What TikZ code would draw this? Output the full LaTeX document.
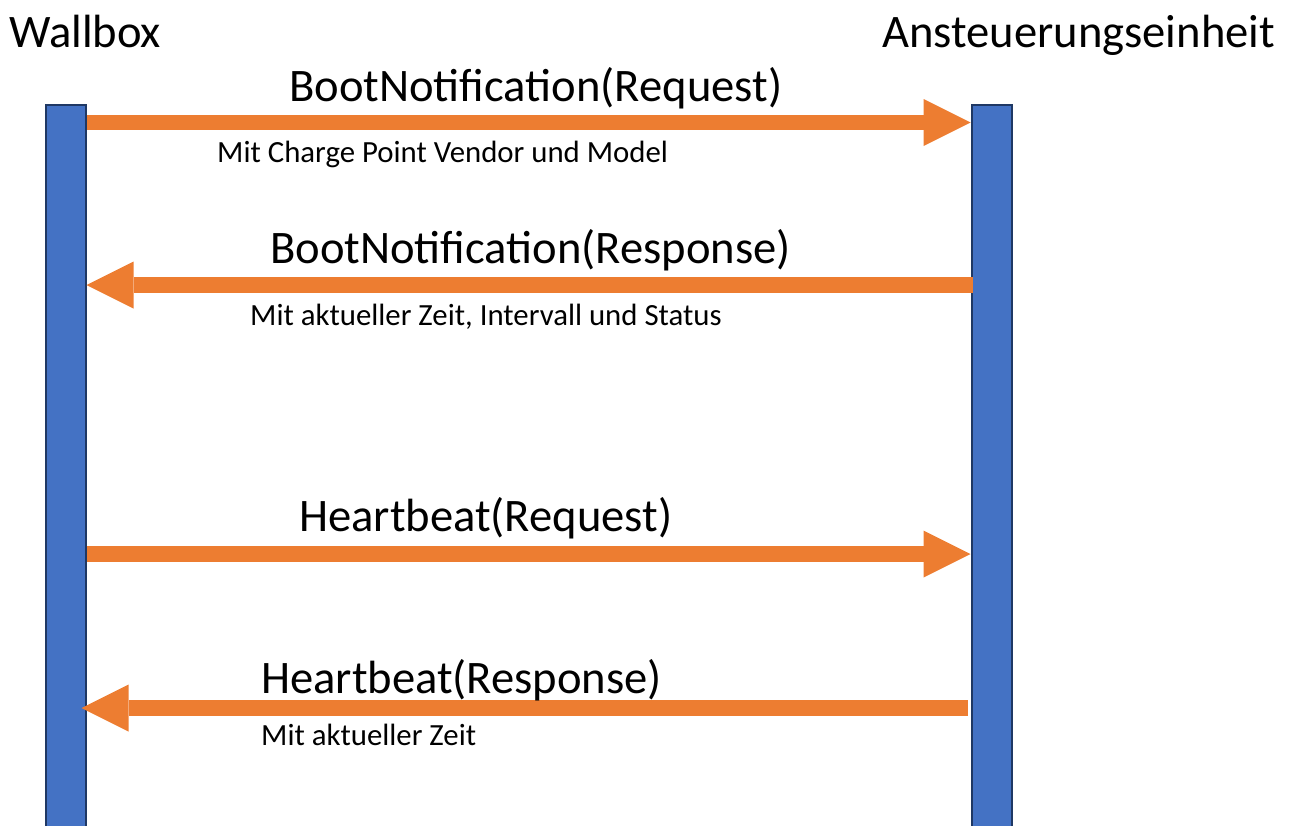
\documentclass[tikz,border=0pt]{standalone}
\usepackage{fontspec}
\setmainfont{Carlito}
\usetikzlibrary{arrows.meta}
\definecolor{barblue}{HTML}{4472C4}
\definecolor{barline}{HTML}{1F3864}
\definecolor{msgorange}{HTML}{ED7D31}
\tikzset{
  lifeline/.style={draw=barline, fill=barblue, line width=2pt, inner sep=0pt,
    minimum width=40pt, minimum height=740pt, anchor=north west},
  msg/.style={draw=msgorange, line width=15.5pt,
    -{Triangle[length=47pt,width=47pt,line width=0pt]}},
  bigtext/.style={inner sep=0pt, anchor=base west, font=\fontsize{46.6pt}{50pt}\selectfont},
  smalltext/.style={inner sep=0pt, anchor=base west, font=\fontsize{30.8pt}{34pt}\selectfont},
}
\begin{document}
\begin{tikzpicture}[x=1pt, y=-1pt]
\useasboundingbox (0,0) rectangle (1289,825);
% lifelines
\node[lifeline] (wb) at (44.5,104) {};
\node[lifeline] (ae) at (970.5,104) {};
% headers
\node[bigtext] (hwb) at (9,47) {Wallbox};
\node[bigtext] (hae) at (882,47) {Ansteuerungseinheit};
% message rows
\coordinate (m1) at (0,122.5);
\coordinate (m2) at (0,285);
\coordinate (m3) at (0,554);
\coordinate (m4) at (0,708);
\draw[msg] (wb.east |- m1) -- (ae.west |- m1);
\draw[msg] ([xshift=2pt]ae.west |- m2) -- (wb.east |- m2);
\draw[msg] (wb.east |- m3) -- (ae.west |- m3);
\draw[msg] ([xshift=-3pt]ae.west |- m4) -- ([xshift=-5pt]wb.east |- m4);
% labels
\node[bigtext] (l1) at (289,101) {BootNotification(Request)};
\node[smalltext] (s1) at (217,162) {Mit Charge Point Vendor und Model};
\node[bigtext] (l2) at (270,263) {BootNotification(Response)};
\node[smalltext] (s2) at (250,325) {Mit aktueller Zeit, Intervall und Status};
\node[bigtext] (l3) at (299,531) {Heartbeat(Request)};
\node[bigtext] (l4) at (261,693) {Heartbeat(Response)};
\node[smalltext] (s4) at (261,745) {Mit aktueller Zeit};
\end{tikzpicture}
\end{document}
